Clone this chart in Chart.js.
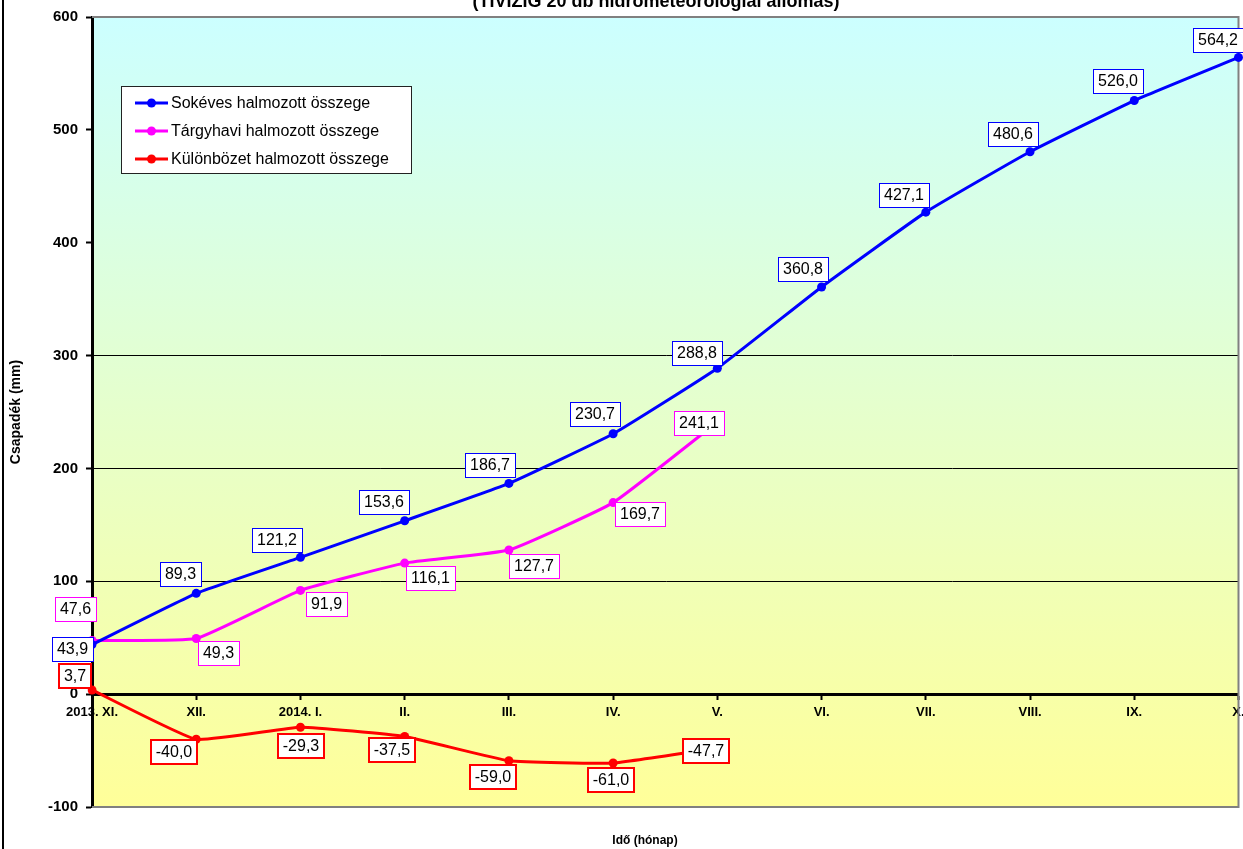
<!DOCTYPE html>
<html>
<head>
<meta charset="utf-8">
<title>Csapadék halmozott összege</title>
<script src="https://cdn.jsdelivr.net/npm/chart.js@4.4.1/dist/chart.umd.min.js"></script>
<style>
  html, body { margin: 0; padding: 0; background: #fff; }
  #wrap { width: 1243px; height: 849px; }
</style>
</head>
<body>
<div id="wrap"><canvas id="csapadekChart"></canvas></div>
<script>
/*===== DATA =====*/
const honapok = ['2013. XI.', 'XII.', '2014. I.', 'II.', 'III.', 'IV.', 'V.', 'VI.', 'VII.', 'VIII.', 'IX.', 'X.']
const sokeves = [43.9, 89.3, 121.2, 153.6, 186.7, 230.7, 288.8, 360.8, 427.1, 480.6, 526.0, 564.2]
const targyhavi = [47.6, 49.3, 91.9, 116.1, 127.7, 169.7, 241.1, null, null, null, null, null]
const kulonbozet = [3.7, -40.0, -29.3, -37.5, -59.0, -61.0, -47.7, null, null, null, null, null]
const yTicks = [-100, 0, 100, 200, 300, 400, 500, 600]

// where each value box sits, relative to its point (px)
const labelShift = [
    [[-20, 4], [-16, -19], [-23, -17], [-21, -19], [-19, -18], [-18, -20], [-20, -15], [-19, -18], [-22, -17], [-17, -18], [-16, -20], [-21, -17]],
    [[-17, -31], [22, 14], [26, 14], [26, 15], [25, 16], [27, 11], [-18, 1]],
    [[-17, -14], [-22, 13], [1, 19], [-13, 14], [-16, 16], [-2, 17], [-11, 3]]
]
const labelBorder = [1, 1, 2]

Chart.defaults.font.family = '"Liberation Sans", Arial, sans-serif'
Chart.defaults.color = '#000'

const fmt = v => v.toFixed(1).replace('.', ',')

/*===== PLUGINS =====*/
const hatter = {
    id: 'hatter',
    beforeDraw(chart) {
        const {ctx, chartArea: a} = chart
        const g = ctx.createLinearGradient(0, a.top, 0, a.bottom)
        g.addColorStop(0, '#ccffff')
        g.addColorStop(1, '#ffff99')
        ctx.save()
        ctx.fillStyle = g
        ctx.fillRect(a.left, a.top, a.right - a.left, a.bottom - a.top)
        ctx.restore()
    },
    beforeDatasetsDraw(chart) {
        // grey frame of the plot area
        const {ctx, chartArea: a} = chart
        ctx.save()
        ctx.strokeStyle = '#808080'
        ctx.lineWidth = 2
        ctx.beginPath()
        ctx.moveTo(a.left, a.top)
        ctx.lineTo(a.right, a.top)
        ctx.lineTo(a.right, a.bottom)
        ctx.lineTo(a.left, a.bottom)
        ctx.stroke()
        ctx.restore()
    }
}

const ertekek = {
    id: 'ertekek',
    afterDatasetsDraw(chart) {
        const ctx = chart.ctx
        ctx.save()
        ctx.font = '16px "Liberation Sans", Arial, sans-serif'
        ctx.textAlign = 'center'
        ctx.textBaseline = 'middle'
        chart.data.datasets.forEach((ds, di) => {
            const meta = chart.getDatasetMeta(di)
            meta.data.forEach((pt, i) => {
                const v = ds.data[i]
                if (v === null || v === undefined) return
                const txt = fmt(v)
                const [dx, dy] = labelShift[di][i]
                const w = Math.round(ctx.measureText(txt).width + 10)
                const h = 24
                const cx = pt.x + dx, cy = pt.y + dy
                const x = Math.round(cx - w / 2), y = Math.round(cy - h / 2)
                const bw = labelBorder[di]
                ctx.fillStyle = '#fff'
                ctx.fillRect(x, y, w, h)
                ctx.strokeStyle = ds.borderColor
                ctx.lineWidth = bw
                const o = bw % 2 ? 0.5 : 0
                ctx.strokeRect(x + o, y + o, w, h)
                ctx.fillStyle = '#000'
                ctx.fillText(txt, x + w / 2, y + h / 2 + 1)
            })
        })
        ctx.restore()
    }
}

const keret = {
    id: 'keret',
    afterDraw(chart) {
        const ctx = chart.ctx
        ctx.save()
        // legend box
        ctx.fillStyle = '#fff'
        ctx.fillRect(121, 86, 290, 87)
        ctx.strokeStyle = '#222'
        ctx.lineWidth = 1
        ctx.strokeRect(121.5, 86.5, 290, 87)
        ctx.font = '16px "Liberation Sans", Arial, sans-serif'
        ctx.textBaseline = 'middle'
        ctx.textAlign = 'left'
        chart.data.datasets.forEach((ds, i) => {
            const y = 103 + i * 28
            ctx.strokeStyle = ds.borderColor
            ctx.lineWidth = 3
            ctx.beginPath()
            ctx.moveTo(135, y)
            ctx.lineTo(168, y)
            ctx.stroke()
            ctx.fillStyle = ds.borderColor
            ctx.beginPath()
            ctx.arc(151.5, y, 4.5, 0, Math.PI * 2)
            ctx.fill()
            ctx.fillStyle = '#000'
            ctx.fillText(ds.label, 171, y + 1)
        })
        // titles
        ctx.textAlign = 'center'
        ctx.textBaseline = 'alphabetic'
        ctx.font = 'bold 18px "Liberation Sans", Arial, sans-serif'
        ctx.fillText('(TIVIZIG 20 db hidrometeorológiai állomás)', 656, 7)
        ctx.font = 'bold 12px "Liberation Sans", Arial, sans-serif'
        ctx.fillText('Idő (hónap)', 645, 844)
        // outer frame (left edge)
        ctx.strokeStyle = '#000'
        ctx.lineWidth = 2
        ctx.beginPath()
        ctx.moveTo(3, 0)
        ctx.lineTo(3, 849)
        ctx.stroke()
        ctx.restore()
    }
}

/*===== CHART =====*/
const ctx = document.getElementById('csapadekChart').getContext('2d')
const myChart = new Chart(ctx, {
    type: 'line',
    data: {
        labels: honapok,
        datasets: [{
            label: 'Sokéves halmozott összege',
            data: sokeves,
            borderColor: '#0000ff',
            backgroundColor: '#0000ff'
        }, {
            label: 'Tárgyhavi halmozott összege',
            data: targyhavi,
            borderColor: '#ff00ff',
            backgroundColor: '#ff00ff'
        }, {
            label: 'Különbözet halmozott összege',
            data: kulonbozet,
            borderColor: '#ff0000',
            backgroundColor: '#ff0000'
        }]
    },
    options: {
        responsive: true,
        maintainAspectRatio: false,
        animation: false,
        layout: {
            padding: {top: 17, right: 3, bottom: 42, left: 6}
        },
        elements: {
            line: {borderWidth: 3, tension: 0.12},
            point: {radius: 4.5, borderWidth: 0, hoverRadius: 4.5}
        },
        plugins: {
            legend: {display: false},
            tooltip: {enabled: false}
        },
        scales: {
            x: {
                type: 'category',
                position: {y: 0},
                offset: false,
                afterFit(scale) {
                    scale.paddingLeft = 0
                    scale.paddingRight = 0
                },
                grid: {
                    drawOnChartArea: false,
                    drawTicks: true,
                    tickLength: 4,
                    tickWidth: 2,
                    tickColor: '#000'
                },
                border: {color: '#000', width: 3},
                ticks: {
                    autoSkip: false,
                    maxRotation: 0,
                    padding: 6,
                    font: {size: 13, weight: 'bold'}
                }
            },
            y: {
                min: -100,
                max: 600,
                afterFit(scale) {
                    scale.width = 86
                },
                afterBuildTicks(scale) {
                    scale.ticks = yTicks.map(v => ({value: v}))
                },
                grid: {
                    color: c => [100, 200, 300].includes(c.tick && c.tick.value) ? '#000' : 'rgba(0,0,0,0)',
                    lineWidth: 1,
                    tickLength: 6,
                    tickWidth: 2,
                    tickColor: '#000'
                },
                border: {color: '#000', width: 3},
                ticks: {
                    padding: 8,
                    font: {size: 15, weight: 'bold'}
                },
                title: {
                    display: true,
                    text: 'Csapadék (mm)',
                    font: {size: 14, weight: 'bold'},
                    padding: {top: 2, bottom: 0}
                }
            }
        }
    },
    plugins: [hatter, ertekek, keret]
})
</script>
</body>
</html>
